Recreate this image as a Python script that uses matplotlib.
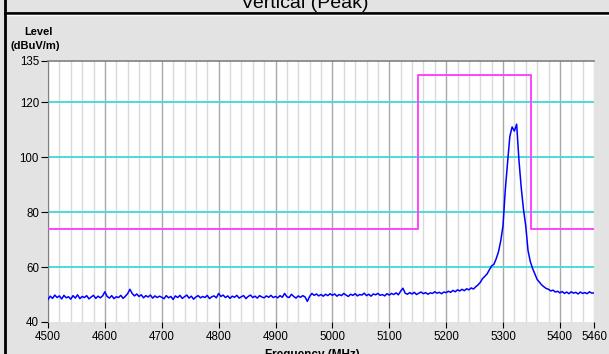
import numpy as np
import matplotlib
matplotlib.use("Agg")
import matplotlib.pyplot as plt
from matplotlib.lines import Line2D

plt.rcParams['font.family'] = ['Liberation Sans', 'DejaVu Sans']

# ---- data ----
f_start, f_stop, f_step = 4500, 5460, 4
level = [
    # 4500-4596
    48.2, 49.4, 48.6, 49.8, 48.9, 49.5, 48.4, 49.7, 48.8, 49.2, 48.3, 49.6, 48.7, 49.9, 48.5, 49.3, 48.9, 49.6, 48.4, 49.1, 49.7, 48.6, 49.4, 48.8, 49.5,
    # 4600-4696
    51.0, 49.3, 48.7, 49.6, 48.5, 49.2, 48.9, 49.7, 48.6, 49.4, 50.3, 51.9, 50.4, 49.5, 50.2, 49.3, 49.9, 48.8, 49.6, 49.1, 49.8, 48.7, 49.5, 48.9, 49.4,
    # 4700-4796
    49.0, 48.5, 49.6, 48.8, 49.3, 48.2, 49.5, 48.9, 49.7, 48.6, 49.2, 49.8, 48.7, 49.4, 48.3, 49.1, 49.6, 48.8, 49.3, 48.9, 49.7, 48.5, 49.2, 49.5, 48.8,
    # 4800-4896
    50.4, 49.3, 49.8, 48.9, 49.5, 48.6, 49.4, 49.0, 49.7, 48.7, 49.2, 49.6, 48.5, 49.3, 49.8, 48.9, 49.4, 48.7, 49.6, 49.1, 48.8, 49.5, 49.0, 49.7, 48.9,
    # 4900-4996
    49.3, 48.8, 49.6, 49.0, 50.4, 49.2, 48.9, 50.1, 49.3, 48.7, 49.5, 49.0, 49.6, 49.1, 47.5, 49.3, 50.4, 49.7, 50.2, 49.5, 50.0, 49.4, 50.1, 49.6, 50.3,
    # 5000-5096
    49.7, 50.2, 49.4, 50.0, 49.6, 50.4, 49.8, 49.3, 50.1, 49.7, 50.3, 49.5, 50.0, 49.8, 50.5, 49.6, 50.1, 49.4, 50.2, 49.9, 50.4, 49.7, 50.0, 49.5, 50.3,
    # 5100-5196
    49.8, 50.4, 50.0, 50.6, 49.9, 51.2, 52.3, 50.5, 50.1, 50.7, 50.2, 50.8, 50.0, 50.5, 50.9, 50.3, 50.7, 50.1, 50.6, 50.4, 51.0, 50.5, 50.8, 50.3, 50.9,
    # 5200-5296
    50.7, 51.2, 50.8, 51.5, 51.0, 51.7, 51.3, 51.9, 51.4, 52.1, 51.7, 52.4, 52.0, 52.8, 53.5, 54.4, 55.8, 56.6, 57.5, 59.0, 60.4, 61.0, 63.0, 65.5, 69.5,
    # 5300-5396
    75.0, 88.0, 98.0, 107.5, 111.0, 109.5, 112.0, 99.0, 89.0, 81.0, 75.0, 66.0, 62.0, 59.5, 57.5, 55.5, 54.5, 53.5, 52.8, 52.2, 51.9, 51.3, 51.6, 50.9, 51.2,
    # 5400-5460
    50.6, 51.1, 50.4, 50.9, 50.3, 51.0, 50.5, 50.8, 50.2, 50.9, 50.4, 50.7, 50.3, 51.0, 50.5, 50.6,
]
limit_freq = [4500, 5150, 5150, 5350, 5350, 5460]
limit_level = [74, 74, 130, 130, 74, 74]

x_major = [4500, 4600, 4700, 4800, 4900, 5000, 5100, 5200, 5300, 5400, 5460]
y_ticks = [40, 60, 80, 100, 120, 135]
h_grid = [60, 80, 100, 120]

freq = np.arange(f_start, f_stop + 1, f_step)

# ---- figure ----
fig = plt.figure(figsize=(6.09, 3.54), dpi=100)
fig.patch.set_facecolor('#e3e3e3')
ax = fig.add_axes([48/609, 1-322/354, (594-48)/609, (322-61)/354])
ax.set_facecolor('white')

# grid
for xv in range(4500, 5461, 20):
    if xv % 100 == 0:
        ax.axvline(xv, color='#a8a8a8', lw=1.0, zorder=1)
    else:
        ax.axvline(xv, color='#d9d9d9', lw=1.0, zorder=1)
for yv in h_grid:
    ax.axhline(yv, color='#40d8d8', lw=1.3, zorder=2)

ax.plot(limit_freq, limit_level, color='#ff44ff', lw=1.4, zorder=3)
ax.plot(freq, level, color='#0000ff', lw=1.1, zorder=4)

ax.set_xlim(4500, 5460)
ax.set_ylim(40, 135)
ax.set_xticks(x_major)
ax.set_yticks(y_ticks)
ax.tick_params(axis='both', labelsize=8.3, colors='black', length=5, width=0.8, pad=1.5)
ax.tick_params(axis='x', length=4, pad=2.5)

for s in ['right', 'bottom']:
    ax.spines[s].set_visible(False)
ax.spines['left'].set_color('#808080')
ax.spines['top'].set_color('#808080')
ax.spines['top'].set_linewidth(1.2)

# texts
fig.text(305/609, 1-8/354, 'Vertical (Peak)', ha='center', va='baseline', fontsize=14)
fig.text(38/609, 1-35/354, 'Level', ha='center', va='baseline', fontsize=8, fontweight='bold')
fig.text(35/609, 1-49/354, '(dBuV/m)', ha='center', va='baseline', fontsize=8, fontweight='bold')
fig.text(312/609, 1-358/354, 'Frequency (MHz)', ha='center', va='baseline', fontsize=8.5, fontweight='bold')

# frame lines
fig.add_artist(Line2D([5/609, 1], [1-12.5/354, 1-12.5/354], transform=fig.transFigure, color='black', lw=2))
fig.add_artist(Line2D([5/609, 1], [1-14.5/354, 1-14.5/354], transform=fig.transFigure, color='white', lw=1))
fig.add_artist(Line2D([5/609, 5/609], [0, 1], transform=fig.transFigure, color='black', lw=2))

fig.savefig('out.png', dpi=100, facecolor=fig.get_facecolor())
